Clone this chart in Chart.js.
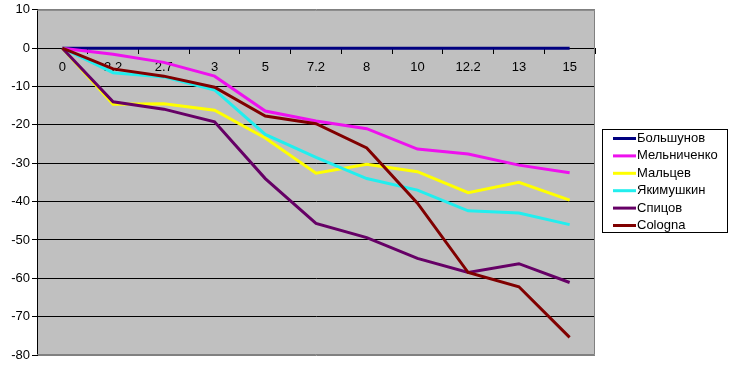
<!DOCTYPE html>
<html>
<head>
<meta charset="utf-8">
<script src="https://cdn.jsdelivr.net/npm/chart.js@4.4.1/dist/chart.umd.min.js"></script>
<style>
  html, body { margin: 0; padding: 0; background: #fff; }
  #wrap { width: 730px; height: 365px; }
</style>
</head>
<body>
<div id="wrap"><canvas id="chart" width="730" height="365"></canvas></div>
<script>
'use strict';

// categories (km marks)
var km = ['0', '2.2', '2.7', '3', '5', '7.2', '8', '10', '12.2', '13', '15'];

// gap to leader, seconds
var bolshunov  = [0, 0, 0, 0, 0, 0, 0, 0, 0, 0, 0];
var melnichenko = [0, -1.6, -3.7, -7.3, -16.4, -19, -21, -26.3, -27.6, -30.5, -32.5];
var maltsev    = [0, -14.6, -14.5, -16.2, -23.4, -32.6, -30.3, -32.2, -37.7, -35, -39.6];
var yakimushkin = [0, -6.4, -7.5, -10.9, -22.5, -28.5, -34, -37, -42.4, -43, -46];
var spitsov    = [0, -14, -15.9, -19.2, -34, -45.7, -49.4, -54.8, -58.5, -56.2, -61.1];
var cologna    = [0, -5.4, -7.3, -10.2, -17.7, -19.7, -26, -40.4, -58.5, -62.2, -75.4];

var names  = ['Большунов', 'Мельниченко', 'Мальцев', 'Якимушкин', 'Спицов', 'Cologna'];
var series = [bolshunov, melnichenko, maltsev, yakimushkin, spitsov, cologna];
var colors = ['#000080', '#ee11ee', '#ffff00', '#22eeee', '#660066', '#800000'];

var yTicks = [10, 0, -10, -20, -30, -40, -50, -60, -70, -80];

var FONT = 'Liberation Sans, Arial, sans-serif';

var datasets = series.map(function (vals, i) {
   return {
      label: names[i],
      data: vals,
      borderColor: colors[i],
      backgroundColor: colors[i],
      borderWidth: 3,
      pointRadius: 0,
      tension: 0,
      fill: false,
      order: series.length - i   // later series on top, like Excel
   };
});

// grey plot area + border
var plotArea = {
   id: 'plotArea',
   beforeDraw: function (chart) {
      var a = chart.chartArea, ctx = chart.ctx;
      ctx.save();
      ctx.fillStyle = '#c0c0c0';
      ctx.fillRect(a.left, a.top, a.right - a.left, a.bottom - a.top);
      ctx.restore();
   },
   beforeDatasetsDraw: function (chart) {
      var a = chart.chartArea, ctx = chart.ctx;
      ctx.save();
      ctx.strokeStyle = '#808080';
      ctx.lineWidth = 1;
      ctx.beginPath();
      ctx.moveTo(a.left, a.top + 0.5);
      ctx.lineTo(a.right - 0.5, a.top + 0.5);
      ctx.lineTo(a.right - 0.5, a.bottom - 0.5);
      ctx.lineTo(a.left, a.bottom - 0.5);
      ctx.stroke();
      ctx.restore();
   }
};

// Excel-like boxed legend on the right
var boxLegend = {
   id: 'boxLegend',
   afterDraw: function (chart) {
      var ctx = chart.ctx;
      var x = 602, y = 129, w = 126, h = 104;
      ctx.save();
      ctx.fillStyle = '#fff';
      ctx.fillRect(x, y, w, h);
      ctx.strokeStyle = '#000';
      ctx.lineWidth = 1;
      ctx.strokeRect(x + 0.5, y + 0.5, w - 1, h - 1);
      ctx.font = '13px ' + FONT;
      ctx.textBaseline = 'middle';
      chart.data.datasets.forEach(function (ds, i) {
         var cy = y + 9.5 + i * 17.4;
         ctx.strokeStyle = ds.borderColor;
         ctx.lineWidth = 3;
         ctx.beginPath();
         ctx.moveTo(613, cy);
         ctx.lineTo(636, cy);
         ctx.stroke();
         ctx.fillStyle = '#000';
         ctx.fillText(ds.label, 637, cy);
      });
      ctx.restore();
   }
};

new Chart(document.getElementById('chart'), {
   type: 'line',
   data: { labels: km, datasets: datasets },
   options: {
      responsive: false,
      animation: false,
      layout: { padding: { left: 0, right: 135, top: 9, bottom: 10 } },
      plugins: {
         legend: { display: false },
         tooltip: { enabled: false }
      },
      scales: {
         x: {
            type: 'category',
            position: { y: 0 },
            offset: true,
            grid: {
               offset: true,
               drawOnChartArea: false,
               drawTicks: true,
               tickLength: 5,
               tickColor: '#000'
            },
            border: { display: true, color: '#000', width: 1 },
            ticks: {
               color: '#000',
               font: { family: FONT, size: 13 },
               padding: 6,
               maxRotation: 0,
               autoSkip: false
            }
         },
         y: {
            min: -80,
            max: 10,
            afterFit: function (s) { s.width = 37; },
            afterBuildTicks: function (s) {
               s.ticks = yTicks.map(function (v) { return { value: v }; });
            },
            grid: {
               color: function (c) {
                  var v = c.tick && c.tick.value;
                  return (v === 10 || v === -80) ? '#808080' : '#000';
               },
               tickColor: '#000',
               tickLength: 5,
               lineWidth: 1
            },
            border: { display: true, color: '#000', width: 1 },
            ticks: {
               color: '#000',
               font: { family: FONT, size: 13 },
               padding: 2
            }
         }
      }
   },
   plugins: [plotArea, boxLegend]
});
</script>
</body>
</html>
